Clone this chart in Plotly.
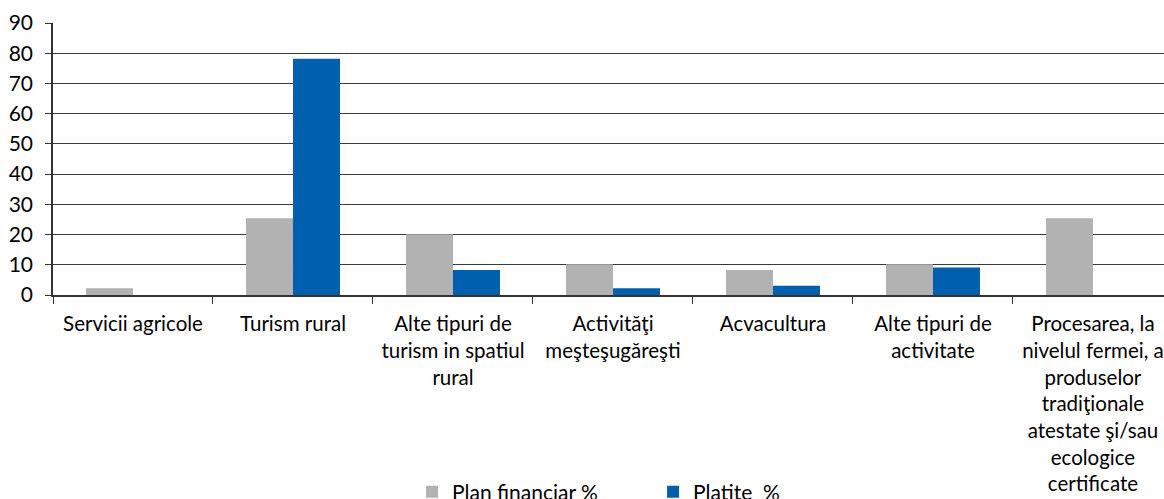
import plotly.graph_objects as go

# Categories of non-agricultural activities
categories = [
    "Servicii agricole",
    "Turism rural",
    "Alte tipuri de<br>turism in spatiul<br>rural",
    "Activităţi<br>meşteşugăreşti",
    "Acvacultura",
    "Alte tipuri de<br>activitate",
    "Procesarea, la<br>nivelul fermei, a<br>produselor<br>tradiţionale<br>atestate şi/sau<br>ecologice<br>certificate",
]

# Share of the financial plan (%) and of payments made (%)
plan_financiar = [2.2, 25.4, 20.1, 10.2, 8.3, 10.2, 25.4]
platite = [0, 78.2, 8.3, 2.2, 3.1, 9.1, 0]

y_ticks = [0, 10, 20, 30, 40, 50, 60, 70, 80, 90]

FONT = "Lato"

fig = go.Figure()
fig.add_trace(go.Bar(x=categories, y=plan_financiar, name="Plan financiar %",
                     marker=dict(color="#B2B2B2", line=dict(width=0))))
fig.add_trace(go.Bar(x=categories, y=platite, name="Platite  %",
                     marker=dict(color="#0060AE", line=dict(width=0))))

fig.update_layout(
    width=1164, height=499,
    margin=dict(l=53, r=0, t=23, b=204, autoexpand=False),
    paper_bgcolor="white", plot_bgcolor="white",
    barmode="group", bargap=0.4125, bargroupgap=0,
    font=dict(family=FONT, size=21, color="black"),
    legend=dict(
        orientation="h",
        xref="container", yref="container",
        x=0.354, xanchor="left",
        y=0.014, yanchor="middle",
        entrywidth=196, entrywidthmode="pixels",
        font=dict(family=FONT, size=21, color="black"),
        bgcolor="rgba(0,0,0,0)",
        traceorder="normal",
    ),
    showlegend=True,
)

fig.update_xaxes(
    type="category",
    range=[-0.5, 6.444],
    automargin=False,
    showline=True, linecolor="#333333", linewidth=1.5,
    ticks="outside", tickson="boundaries", ticklen=7, tickcolor="#333333",
    showgrid=False, zeroline=False,
    tickangle=0,
    tickfont=dict(family=FONT, size=20.5, color="black"),
    ticklabelstandoff=10,
)

fig.update_yaxes(
    range=[0, 90],
    tickvals=y_ticks,
    automargin=False,
    showline=True, linecolor="#333333", linewidth=1.5,
    ticks="outside", ticklen=6, tickcolor="#333333",
    showgrid=True, gridcolor="#3a3a3a", gridwidth=1.2,
    zeroline=False,
    tickfont=dict(family=FONT, size=21, color="black"),
    ticklabelstandoff=8,
)

fig.write_html("out.html")
